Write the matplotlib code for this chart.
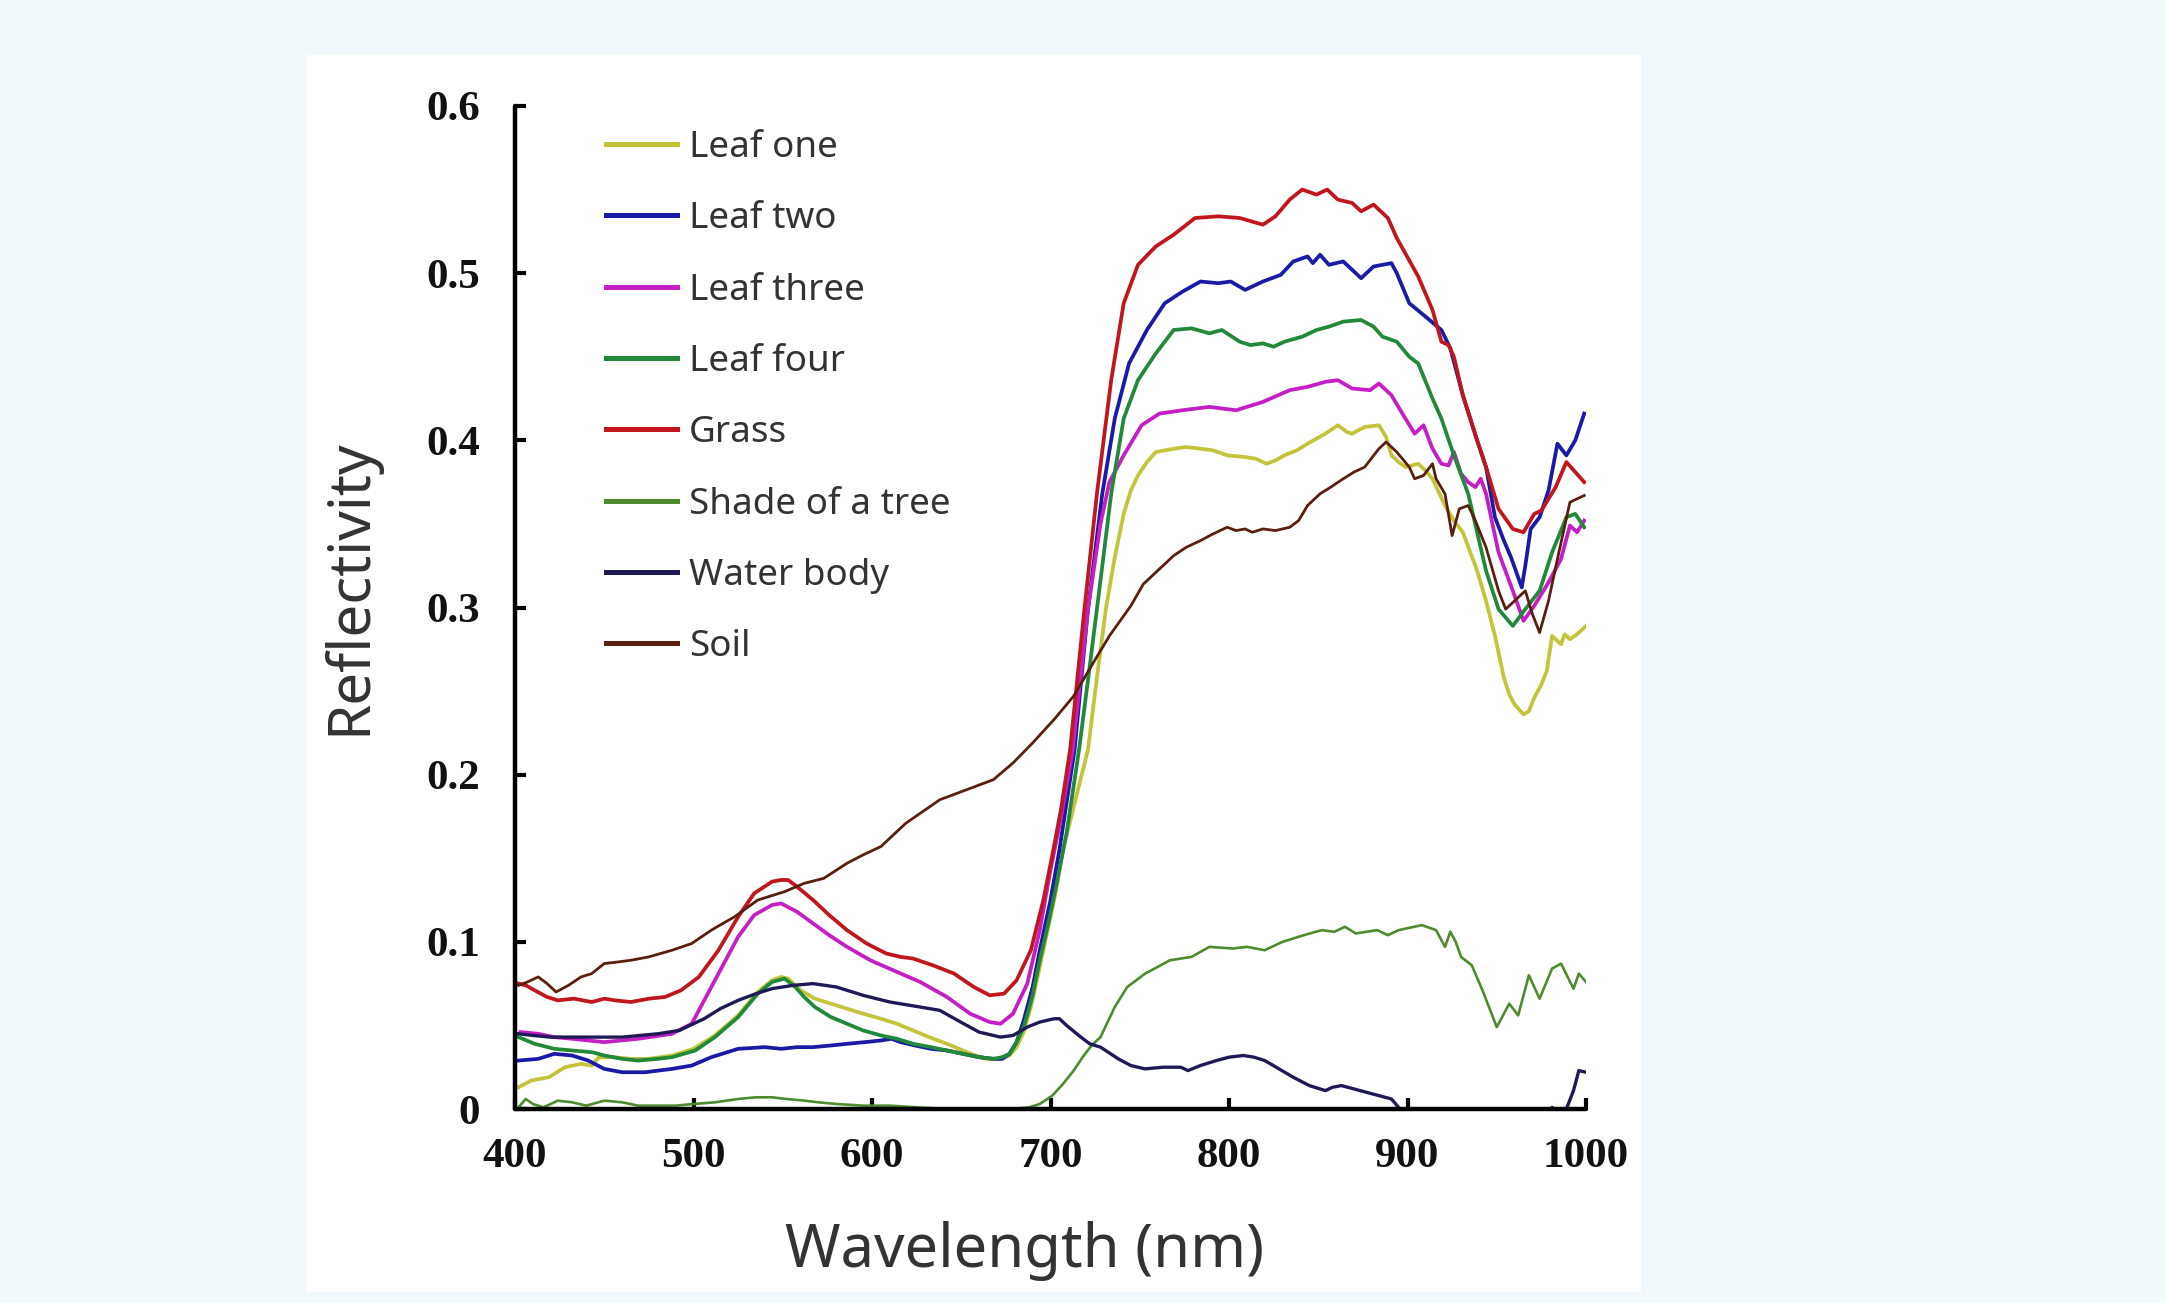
import matplotlib
matplotlib.use("Agg")
import matplotlib.pyplot as plt
from matplotlib.patches import Rectangle

# ---------------- data ----------------
labels = ["Leaf one", "Leaf two", "Leaf three", "Leaf four",
          "Grass", "Shade of a tree", "Water body", "Soil"]

leaf_one_wl = [402, 409, 419, 428, 437, 443, 447, 455, 465, 475, 488, 500, 512, 525, 536, 544, 549, 553,
               560, 568, 577, 586, 595, 605, 614, 623, 632, 642, 651, 658, 664, 672, 677, 681, 685, 689,
               693, 698, 703, 707, 714, 721, 726, 731, 736, 741, 745, 749, 754, 759, 769, 776, 784, 791,
               799, 809, 815, 821, 826, 831, 838, 844, 849, 854, 861, 866, 869, 876, 884, 888, 891, 895,
               899, 906, 910, 914, 921, 926, 931, 939, 944, 949, 954, 957, 960, 965, 968, 971, 975, 978,
               981, 984, 986, 988, 991, 995, 1000]
leaf_one = [0.013, 0.017, 0.019, 0.025, 0.027, 0.026, 0.031, 0.031, 0.030, 0.030, 0.032, 0.036, 0.044,
            0.056, 0.070, 0.077, 0.079, 0.078, 0.071, 0.066, 0.063, 0.060, 0.057, 0.054, 0.051, 0.047,
            0.043, 0.039, 0.035, 0.032, 0.030, 0.030, 0.032, 0.037, 0.046, 0.061, 0.080, 0.105, 0.130,
            0.155, 0.185, 0.215, 0.258, 0.299, 0.330, 0.356, 0.370, 0.379, 0.387, 0.393, 0.395, 0.396,
            0.395, 0.394, 0.391, 0.390, 0.389, 0.386, 0.388, 0.391, 0.394, 0.398, 0.401, 0.404, 0.409,
            0.405, 0.404, 0.408, 0.409, 0.402, 0.391, 0.387, 0.384, 0.386, 0.382, 0.377, 0.361, 0.352,
            0.345, 0.322, 0.304, 0.283, 0.258, 0.248, 0.242, 0.236, 0.238, 0.246, 0.254, 0.262, 0.283,
            0.280, 0.278, 0.284, 0.281, 0.284, 0.289]

leaf_two_wl = [402, 413, 422, 432, 441, 450, 460, 473, 488, 499, 510, 525, 540, 549, 558, 567, 577, 586,
               596, 605, 611, 616, 624, 633, 642, 651, 660, 668, 673, 677, 681, 685, 690, 694, 700, 705,
               713.5, 721, 729, 736, 744, 754, 764, 774, 784, 794, 801, 809, 819, 829, 836, 844, 847, 851,
               856, 864, 868, 874, 881, 891, 894, 901, 909, 919, 924, 931, 939, 944, 949, 954, 958, 964,
               966, 969, 974, 979, 984, 989, 994, 999]
leaf_two = [0.029, 0.030, 0.033, 0.032, 0.029, 0.024, 0.022, 0.022, 0.024, 0.026, 0.031, 0.036, 0.037,
            0.036, 0.037, 0.037, 0.038, 0.039, 0.040, 0.041, 0.042, 0.040, 0.038, 0.036, 0.035, 0.033,
            0.031, 0.030, 0.030, 0.033, 0.040, 0.053, 0.073, 0.095, 0.125, 0.155, 0.215, 0.299, 0.368,
            0.413, 0.446, 0.466, 0.482, 0.489, 0.495, 0.494, 0.495, 0.490, 0.495, 0.499, 0.507, 0.510,
            0.506, 0.511, 0.505, 0.507, 0.503, 0.497, 0.504, 0.506, 0.500, 0.482, 0.475, 0.466, 0.455,
            0.427, 0.400, 0.384, 0.354, 0.340, 0.330, 0.312, 0.325, 0.347, 0.354, 0.370, 0.398, 0.391,
            0.400, 0.416]

leaf_three_wl = [403, 413, 422, 432, 450, 469, 488, 499, 506, 516, 525, 534, 544, 549, 558, 567, 576, 586,
                 599, 614, 627, 642, 655, 666, 672, 679, 687, 694, 700, 706, 712.5, 721, 728, 733, 741,
                 751, 761, 774, 789, 804, 819, 834, 844, 854, 861, 869, 879, 884, 891, 896, 904, 909,
                 914, 919, 923, 926, 930, 934, 938, 941, 944, 951, 959, 965, 971, 979, 986, 991, 995, 999]
leaf_three = [0.046, 0.045, 0.043, 0.042, 0.040, 0.042, 0.045, 0.051, 0.065, 0.085, 0.103, 0.116, 0.122,
              0.123, 0.118, 0.111, 0.104, 0.097, 0.089, 0.082, 0.076, 0.067, 0.057, 0.052, 0.051, 0.057,
              0.075, 0.107, 0.143, 0.175, 0.215, 0.299, 0.350, 0.375, 0.391, 0.409, 0.416, 0.418, 0.420,
              0.418, 0.423, 0.430, 0.432, 0.435, 0.436, 0.431, 0.430, 0.434, 0.427, 0.418, 0.404, 0.409,
              0.395, 0.386, 0.385, 0.393, 0.380, 0.375, 0.372, 0.377, 0.368, 0.333, 0.310, 0.292, 0.301,
              0.315, 0.329, 0.349, 0.345, 0.352]

leaf_four_wl = [402, 411, 422, 432, 443, 450, 460, 469, 480, 488, 501, 512, 525, 536, 544, 551, 557, 562,
                568, 577, 586, 595, 605, 614, 623, 633, 642, 651, 660, 668, 673, 677, 681, 685, 690, 694,
                699, 703.5, 709, 716, 722, 726, 734, 741, 749, 759, 769, 779, 789, 796, 806, 812, 819,
                825, 831, 841, 849, 856, 864, 874, 881, 886, 894, 901, 906, 914, 919, 926, 934, 939, 944,
                951, 959, 966, 974, 981, 989, 994, 999]
leaf_four = [0.043, 0.039, 0.036, 0.035, 0.034, 0.032, 0.030, 0.029, 0.030, 0.031, 0.035, 0.043, 0.055,
             0.069, 0.076, 0.078, 0.073, 0.067, 0.061, 0.055, 0.051, 0.047, 0.044, 0.042, 0.039, 0.037,
             0.035, 0.033, 0.031, 0.030, 0.031, 0.033, 0.040, 0.049, 0.068, 0.089, 0.112, 0.135, 0.165,
             0.215, 0.265, 0.299, 0.368, 0.413, 0.436, 0.452, 0.466, 0.467, 0.464, 0.466, 0.459, 0.457,
             0.458, 0.456, 0.459, 0.462, 0.466, 0.468, 0.471, 0.472, 0.468, 0.462, 0.459, 0.450, 0.446,
             0.425, 0.413, 0.391, 0.368, 0.345, 0.322, 0.299, 0.289, 0.299, 0.310, 0.333, 0.354, 0.356,
             0.348]

grass_wl = [402, 406, 411, 418, 424, 433, 443, 450, 456, 465, 475, 484, 493, 503, 514, 525, 534, 544, 549,
            553, 558, 567, 576, 586, 597, 608, 616, 623, 634, 646, 657, 666, 674, 681, 689, 696, 701.6,
            706, 711, 719, 726, 734, 741, 749, 759, 769, 781, 794, 806, 819, 826, 834, 841, 849, 855, 861,
            869, 874, 881, 889, 894, 906, 914, 919, 923, 926, 931, 939, 944, 951, 959, 965, 971, 975, 979,
            983, 989, 994, 999]
grass = [0.075, 0.074, 0.071, 0.067, 0.065, 0.066, 0.064, 0.066, 0.065, 0.064, 0.066, 0.067, 0.071, 0.079,
         0.095, 0.115, 0.129, 0.136, 0.137, 0.137, 0.133, 0.125, 0.116, 0.107, 0.099, 0.093, 0.091, 0.090,
         0.086, 0.081, 0.073, 0.068, 0.069, 0.077, 0.095, 0.125, 0.155, 0.180, 0.215, 0.299, 0.368, 0.436,
         0.482, 0.505, 0.516, 0.523, 0.533, 0.534, 0.533, 0.529, 0.534, 0.544, 0.550, 0.547, 0.550, 0.544,
         0.542, 0.537, 0.541, 0.533, 0.521, 0.498, 0.478, 0.459, 0.457, 0.450, 0.427, 0.400, 0.384, 0.359,
         0.347, 0.345, 0.356, 0.358, 0.365, 0.372, 0.387, 0.381, 0.375]

shade_wl = [402, 406, 410, 416, 424, 432, 440, 450, 460, 469, 480, 490, 500, 512, 525, 535, 544, 552, 562,
            570, 580, 595, 610, 625, 642, 660, 679, 688, 694, 701, 707, 713, 718, 723, 728, 736, 743, 753,
            767, 779, 789, 802, 810, 820, 830, 842, 852, 859, 865, 871, 883, 889, 895, 908, 916, 921, 924,
            927, 930, 936, 942, 950, 957, 962, 968, 974, 981, 986, 993, 996, 1000]
shade = [0.001, 0.006, 0.003, 0.001, 0.005, 0.004, 0.002, 0.005, 0.004, 0.002, 0.002, 0.002, 0.003, 0.004,
         0.006, 0.007, 0.007, 0.006, 0.005, 0.004, 0.003, 0.002, 0.002, 0.001, 0.000, 0.000, 0.000, 0.001,
         0.003, 0.008, 0.015, 0.023, 0.031, 0.038, 0.043, 0.061, 0.073, 0.081, 0.089, 0.091, 0.097, 0.096,
         0.097, 0.095, 0.100, 0.104, 0.107, 0.106, 0.109, 0.105, 0.107, 0.104, 0.107, 0.110, 0.107, 0.097,
         0.106, 0.100, 0.091, 0.086, 0.071, 0.049, 0.063, 0.056, 0.080, 0.066, 0.084, 0.087, 0.072, 0.081,
         0.076]

water_wl = [402, 410, 420, 440, 460, 480, 492, 500, 506, 515, 525, 535, 544, 556, 567, 580, 595, 610, 627,
            638, 648, 660, 672, 679, 687, 694, 702, 705, 709, 717, 722, 728, 738, 745, 753, 763, 773, 777,
            784, 793, 800, 808, 814, 820, 828, 836, 845, 854, 858, 863, 870, 877, 884, 891, 895, 898, 905,
            975, 981, 984, 989, 993, 996, 1000]
water = [0.045, 0.044, 0.043, 0.043, 0.043, 0.045, 0.047, 0.051, 0.054, 0.060, 0.065, 0.069, 0.072, 0.074,
         0.075, 0.073, 0.068, 0.064, 0.061, 0.059, 0.053, 0.046, 0.043, 0.044, 0.049, 0.052, 0.054, 0.054,
         0.050, 0.043, 0.039, 0.037, 0.030, 0.026, 0.024, 0.025, 0.025, 0.023, 0.026, 0.029, 0.031, 0.032,
         0.031, 0.029, 0.024, 0.019, 0.014, 0.011, 0.013, 0.014, 0.012, 0.010, 0.008, 0.006, 0.001, -0.005,
         -0.020, -0.020, 0.001, -0.002, 0.000, 0.011, 0.023, 0.022]

soil_wl = [402, 407, 413, 418, 423, 430, 437, 443, 450, 458, 465, 475, 488, 499, 510, 523, 536, 545, 551,
           562, 573, 586, 595, 605, 619, 638, 653, 668, 679, 690, 702, 713, 724, 733, 745, 752, 761, 769,
           776, 784, 791, 799, 804, 809, 813, 819, 826, 834, 839, 844, 851, 857, 864, 870, 876, 884, 888,
           894, 901, 904, 909, 914, 916, 921, 925, 929, 934, 938, 944, 951, 955, 960, 966, 970, 974, 979,
           984, 991, 995, 999]
soil = [0.074, 0.076, 0.079, 0.075, 0.070, 0.074, 0.079, 0.081, 0.087, 0.088, 0.089, 0.091, 0.095, 0.099,
        0.107, 0.115, 0.125, 0.128, 0.130, 0.135, 0.138, 0.147, 0.152, 0.157, 0.171, 0.185, 0.191, 0.197,
        0.207, 0.219, 0.233, 0.247, 0.267, 0.283, 0.301, 0.314, 0.323, 0.331, 0.336, 0.340, 0.344, 0.348,
        0.346, 0.347, 0.345, 0.347, 0.346, 0.348, 0.352, 0.361, 0.368, 0.372, 0.377, 0.381, 0.384, 0.395,
        0.399, 0.393, 0.384, 0.377, 0.379, 0.386, 0.377, 0.368, 0.343, 0.359, 0.361, 0.352, 0.336, 0.310,
        0.299, 0.304, 0.310, 0.296, 0.285, 0.304, 0.329, 0.363, 0.365, 0.367]

x_ticks = [400, 500, 600, 700, 800, 900, 1000]
y_ticks = [0, 0.1, 0.2, 0.3, 0.4, 0.5, 0.6]
y_tick_labels = ["0", "0.1", "0.2", "0.3", "0.4", "0.5", "0.6"]

# ---------------- styling ----------------
colors = ["#C4C43A", "#1A1AA6", "#C41EC4", "#22883A", "#C0161E", "#4E8A30", "#1E1A55", "#5A1E0E"]
widths = [2.7, 2.7, 2.7, 2.7, 2.7, 1.9, 2.4, 2.0]
series_wl = [leaf_one_wl, leaf_two_wl, leaf_three_wl, leaf_four_wl, grass_wl, shade_wl, water_wl, soil_wl]
series = [leaf_one, leaf_two, leaf_three, leaf_four, grass, shade, water, soil]

W, H = 2166, 1303
fig = plt.figure(figsize=(W / 100, H / 100), dpi=100, facecolor="#F2F9FD")
fig.patches.append(Rectangle((307 / W, 1 - 1292 / H), (1641 - 307) / W, (1292 - 55) / H,
                             transform=fig.transFigure, facecolor="white", edgecolor="none", zorder=-5))

ax = fig.add_axes([515 / W, 1 - 1109 / H, (1586 - 515) / W, (1109 - 106) / H])
ax.set_facecolor("white")
ax.set_zorder(1)

for wl, vals, c, lw, lab in zip(series_wl, series, colors, widths, labels):
    ax.plot(wl, vals, color=c, lw=lw, label=lab, solid_joinstyle="round")

ax.set_xlim(400, 1000)
ax.set_ylim(0, 0.6)
ax.set_xticks(x_ticks)
ax.set_yticks(y_ticks)
ax.set_yticklabels(y_tick_labels)

for s in ["top", "right"]:
    ax.spines[s].set_visible(False)
for s in ["left", "bottom"]:
    ax.spines[s].set_linewidth(3.2)
    ax.spines[s].set_color("black")
    ax.spines[s].set_capstyle("round")

ax.tick_params(direction="in", length=8, width=3, colors="black")
ax.tick_params(axis="y", pad=25)
ax.tick_params(axis="x", pad=21)
for t in ax.get_xticklabels() + ax.get_yticklabels():
    t.set_fontfamily("Liberation Serif")
    t.set_fontweight("bold")
    t.set_fontsize(31)
    t.set_color("#111111")

ax.set_xlabel("Wavelength (nm)", fontsize=43, family="Noto Sans", color="#333333")
ax.set_ylabel("Reflectivity", fontsize=42, family="Noto Sans", color="#333333")
ax.xaxis.set_label_coords((1025 - 515) / 1071, (1109 - 1251) / 1003)
ax.xaxis.label.set_verticalalignment("center")
ax.yaxis.set_label_coords((350 - 515) / 1071, (1109 - 587) / 1003)
ax.yaxis.label.set_verticalalignment("center")

leg = ax.legend(loc="upper left", bbox_to_anchor=(606 / W, 1 - 130 / H), bbox_transform=fig.transFigure,
                frameon=False, prop={"family": "Noto Sans", "size": 26.5}, handlelength=1.92,
                handletextpad=0.33, labelspacing=0.96, borderpad=0, borderaxespad=0)
for t in leg.get_texts():
    t.set_color("#333333")
for ln in leg.get_lines():
    ln.set_linewidth(3.6)

fig.savefig("out.png", dpi=100, facecolor=fig.get_facecolor())
